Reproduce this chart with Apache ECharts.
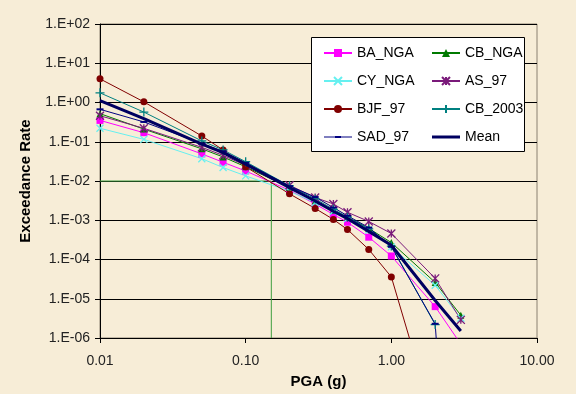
<!DOCTYPE html>
<html><head><meta charset="utf-8">
<script src="https://cdn.jsdelivr.net/npm/echarts@6/dist/echarts.min.js"></script>
<style>html,body{margin:0;padding:0;background:#F7EDD7;}#c{width:576px;height:394px;}</style>
</head><body><div id="c"></div>
<script>
// PGA (g) sample points
const pga = [0.01, 0.02, 0.05, 0.07, 0.1, 0.2, 0.3, 0.4, 0.5, 0.7, 1.0, 2.0, 3.0];
// Exceedance rates per model
const baNga  = [0.35, 0.17, 0.049, 0.030, 0.018, 0.0058, 0.0026, 0.0014, 0.00089, 0.00037, 0.000123, 6.3e-6, 7e-7];
const cbNga  = [0.52, 0.21, 0.066, 0.041, 0.023, 0.0068, 0.0031, 0.0018, 0.0012, 0.00062, 0.00027, 2.6e-5, 3.8e-6];
const cyNga  = [0.22, 0.115, 0.037, 0.022, 0.0135, 0.0055, 0.0028, 0.0017, 0.0011, 0.00056, 0.00021, 2.2e-5, 3.2e-6];
const as97   = [0.46, 0.22, 0.072, 0.045, 0.025, 0.0078, 0.0038, 0.0026, 0.0016, 0.00093, 0.00046, 3.3e-5, 2.9e-6];
const bjf97  = [4.0, 1.04, 0.14, 0.062, 0.023, 0.0047, 0.0020, 0.00105, 0.00058, 0.00018, 3.6e-5, 6e-9, null];
const cb2003 = [1.76, 0.57, 0.105, 0.062, 0.031, 0.0075, 0.0035, 0.0019, 0.0012, 0.00060, 0.00022, 2.2e-6, null];
const sad97  = [0.67, 0.32, 0.090, 0.057, 0.029, 0.0074, 0.0039, 0.0021, 0.0013, 0.00065, 0.00021, 2.3e-6, 1e-15];
const mean   = [1.12, 0.39, 0.087, 0.053, 0.027, 0.0068, 0.0031, 0.0017, 0.0011, 0.00052, 0.00023, 9e-6, 1.5e-6];
// Reference lines (PGA 0.15 g at rate 1E-02)
const refX = [0.01, 0.15, 0.15];
const refY = [0.01, 0.01, 1e-6];
// Tick labels
const xTicks = [0.01, 0.1, 1, 10];
const xTickLabels = ['0.01', '0.10', '1.00', '10.00'];
const yTickExp = [-6, -5, -4, -3, -2, -1, 0, 1, 2];
const yTickLabels = ['1.E-06', '1.E-05', '1.E-04', '1.E-03', '1.E-02', '1.E-01', '1.E+00', '1.E+01', '1.E+02'];

const FONT = '"Liberation Sans", Arial, sans-serif';
const pairs = (ys) => pga.map((x, i) => [x, ys[i]]);

const X_SYM = 'path://M0,0L10,10M10,0L0,10';
const STAR_SYM = 'path://M0,0L10,10M10,0L0,10M5,0L5,10';
const PLUS_SYM = 'path://M5,0L5,10M0,5L10,5';
const SAD_ICON = 'path://M0,0M0,4.5L28,4.5L28,5.5L0,5.5ZM11,4L17,4L17,6L11,6ZM28,10';
const MEAN_ICON = 'path://M0,0M0,3.5L28,3.5L28,6.5L0,6.5ZM28,10';

function mk(name, ys, color, symbol, size, stroke) {
  return {
    name, type: 'line', data: pairs(ys), symbol, symbolSize: size,
    lineStyle: { color, width: 1 },
    itemStyle: { color, borderColor: color, borderWidth: stroke ? 1.3 : 0 },
    emphasis: { disabled: true }, animation: false, z: 3
  };
}

const series = [
  { name: 'ref', type: 'line', data: refX.map((x, i) => [x, refY[i]]), symbol: 'none',
    lineStyle: { color: '#3f9f3f', width: 1 }, silent: true, animation: false, z: 2 },
  mk('BA_NGA', baNga, '#FF00FF', 'rect', 7, false),
  mk('CB_NGA', cbNga, '#007A00', 'triangle', 7, false),
  mk('CY_NGA', cyNga, '#66F0F0', X_SYM, 7, true),
  mk('AS_97', as97, '#7A1A7A', STAR_SYM, 8, true),
  mk('BJF_97', bjf97, '#800000', 'circle', 7, false),
  mk('CB_2003', cb2003, '#008080', PLUS_SYM, 9, true),
  mk('SAD_97', sad97, '#000080', 'rect', [7, 2], false),
  { name: 'Mean', type: 'line', data: pairs(mean), symbol: 'none',
    lineStyle: { color: '#000060', width: 3 }, itemStyle: { color: '#000060' },
    animation: false, z: 4 }
];

const legendBase = {
  orient: 'vertical', top: 45, padding: 0, itemWidth: 28, itemHeight: 10, itemGap: 12,
  textStyle: { fontFamily: FONT, fontSize: 14, color: '#000', lineHeight: 16 },
  selectedMode: false, z: 20
};

const option = {
  backgroundColor: '#F7EDD7',
  animation: false,
  grid: { left: 100, right: 39, top: 24, bottom: 53, show: true, borderColor: '#8a8070', borderWidth: 1 },
  xAxis: {
    type: 'log', logBase: 10, min: 0.01, max: 10, splitNumber: 3,
    name: 'PGA (g)', nameLocation: 'middle', nameGap: 36,
    nameTextStyle: { fontFamily: FONT, fontSize: 15, fontWeight: 'bold', color: '#000' },
    axisLine: { show: true, lineStyle: { color: '#000', width: 1 } },
    axisTick: { show: true, inside: false, length: 5, lineStyle: { color: '#000' } },
    splitLine: { show: false }, minorTick: { show: false },
    axisLabel: {
      fontFamily: FONT, fontSize: 14, color: '#222', margin: 16,
      formatter: (v) => { const e = Math.round(Math.log10(v)); const i = xTicks.findIndex(t => Math.round(Math.log10(t)) === e); return i >= 0 ? xTickLabels[i] : ''; }
    }
  },
  yAxis: {
    type: 'log', logBase: 10, min: 1e-6, max: 100, splitNumber: 8,
    name: 'Exceedance Rate', nameLocation: 'middle', nameGap: 67,
    nameTextStyle: { fontFamily: FONT, fontSize: 15, fontWeight: 'bold', color: '#000' },
    axisLine: { show: true, lineStyle: { color: '#000', width: 1 } },
    axisTick: { show: true, inside: false, length: 5, lineStyle: { color: '#000' } },
    splitLine: { show: true, lineStyle: { color: '#000', width: 1 } },
    axisLabel: {
      fontFamily: FONT, fontSize: 14, color: '#222', margin: 10,
      formatter: (v) => { const e = Math.round(Math.log10(v)); const i = yTickExp.indexOf(e); return i >= 0 ? yTickLabels[i] : ''; }
    }
  },
  legend: [
    Object.assign({}, legendBase, { left: 323, data: ['BA_NGA', 'CY_NGA', 'BJF_97', { name: 'SAD_97', icon: SAD_ICON }] }),
    Object.assign({}, legendBase, { left: 431, data: ['CB_NGA', 'AS_97', 'CB_2003', { name: 'Mean', icon: MEAN_ICON }] })
  ],
  graphic: [{
    type: 'rect', shape: { x: 311.5, y: 37.5, width: 213, height: 114 },
    style: { fill: '#fff', stroke: '#000', lineWidth: 1 }, z: 10, silent: true
  }],
  series
};

const chart = echarts.init(document.getElementById('c'), null, { renderer: 'canvas' });
chart.setOption(option);
</script>
</body></html>
